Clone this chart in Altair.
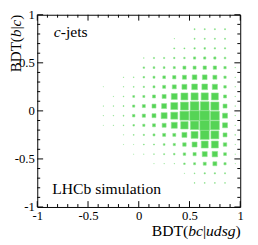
import altair as alt
import pandas as pd

# ---------------- data ----------------
x_centers = [-0.35, -0.25, -0.15, -0.05, 0.05, 0.15, 0.25, 0.35, 0.45, 0.55, 0.65, 0.75, 0.85, 0.95]
y_centers = [0.85, 0.75, 0.65, 0.55, 0.45, 0.35, 0.25, 0.15, 0.05, -0.05, -0.15, -0.25, -0.35, -0.45, -0.55, -0.65, -0.75]

# relative bin content (box side proportional to content), one row per y bin
row_p085 = [0, 0, 0, 0, 0, 0, 0, 0, 0, 10, 10, 10, 10, 0]
row_p075 = [0, 0, 0, 0, 0, 0, 0, 4, 0, 10, 10, 10, 10, 0]
row_p065 = [0, 0, 0, 0, 0, 0, 0, 10, 10, 13, 15, 13, 12, 0]
row_p055 = [0, 0, 0, 0, 5, 12, 12, 13, 14, 22, 22, 22, 16, 0]
row_p045 = [0, 0, 0, 0, 15, 17, 17, 20, 30, 30, 33, 33, 23, 5]
row_p035 = [0, 0, 5, 7, 15, 20, 27, 33, 40, 47, 47, 40, 23, 5]
row_p025 = [3, 0, 5, 8, 12, 20, 30, 40, 50, 57, 57, 52, 25, 5]
row_p015 = [0, 4, 7, 18, 20, 30, 40, 60, 70, 72, 72, 70, 30, 5]
row_p005 = [4, 6, 9, 22, 30, 40, 50, 70, 80, 88, 88, 82, 40, 5]
row_m005 = [4, 6, 9, 25, 32, 40, 60, 70, 90, 98, 100, 90, 50, 5]
row_m015 = [3, 5, 7, 15, 22, 30, 40, 60, 75, 85, 100, 90, 50, 5]
row_m025 = [0, 0, 4, 8, 12, 20, 30, 30, 50, 70, 90, 80, 40, 6]
row_m035 = [0, 0, 3, 3, 8, 10, 17, 22, 35, 50, 70, 70, 35, 4]
row_m045 = [0, 0, 0, 3, 4, 6, 10, 15, 25, 32, 50, 55, 28, 4]
row_m055 = [0, 0, 0, 0, 0, 3, 4, 5, 15, 20, 30, 40, 22, 3]
row_m065 = [0, 0, 0, 0, 0, 0, 0, 0, 4, 8, 12, 12, 10, 0]
row_m075 = [0, 0, 0, 0, 0, 0, 0, 0, 0, 7, 8, 8, 7, 0]

content = [row_p085, row_p075, row_p065, row_p055, row_p045, row_p035, row_p025,
           row_p015, row_p005, row_m005, row_m015, row_m025, row_m035, row_m045,
           row_m055, row_m065, row_m075]

tick_major = [-1, -0.5, 0, 0.5, 1]
tick_minor = [-0.9, -0.8, -0.7, -0.6, -0.4, -0.3, -0.2, -0.1, 0.1, 0.2, 0.3, 0.4, 0.6, 0.7, 0.8, 0.9]

x_title = [("BDT(", False), ("bc", True), ("|", False), ("udsg", True), (")", False)]
y_title = [("BDT(", False), ("b", True), ("|", False), ("c", True), (")", False)]

# ---------------- build ----------------
records = []
for yi, yv in enumerate(y_centers):
    for xi, xv in enumerate(x_centers):
        v = content[yi][xi]
        if v > 0:
            records.append({"x": xv, "y": yv, "c": v})
df = pd.DataFrame(records)

W, H = 208, 197
FONT = "Liberation Serif"
FS = 16
GREEN = "#55d455"

xs = alt.Scale(domain=[-1, 1], nice=False, zero=False)
ys = alt.Scale(domain=[-1, 1], nice=False, zero=False)

AX = alt.Axis(values=tick_major, labelExpr="toString(datum.value)", ticks=False, domain=False,
              grid=False, labelFont=FONT, labelFontSize=13, labelColor="black", labelPadding=3,
              labelOverlap=False, labelFlush=False, title=None, orient="bottom")
AY = alt.Axis(values=tick_major, labelExpr="toString(datum.value)", ticks=False, domain=False,
              grid=False, labelFont=FONT, labelFontSize=13, labelColor="black", labelPadding=3,
              labelOverlap=False, labelFlush=False, labelBaseline="middle", title=None,
              orient="left")

boxes = alt.Chart(df).mark_square(
    color=GREEN, fill=GREEN, stroke="#8fe48f", strokeWidth=0.6, opacity=1
).encode(
    x=alt.X("x:Q", scale=xs, axis=AX),
    y=alt.Y("y:Q", scale=ys, axis=AY),
    size=alt.Size("c:Q", scale=alt.Scale(type="pow", exponent=2, domain=[0, 100], range=[0, 104]),
                  legend=None),
)

layers = [boxes]


def tick_layers(vals, ln):
    d = pd.DataFrame({"v": vals})
    base = alt.Chart(d).mark_rule(color="black", strokeWidth=1)
    out = []
    out.append(base.encode(x=alt.X("v:Q", scale=xs, axis=AX), y=alt.value(H), y2=alt.value(H - ln)))
    out.append(base.encode(x=alt.X("v:Q", scale=xs, axis=AX), y=alt.value(0), y2=alt.value(ln)))
    out.append(base.encode(y=alt.Y("v:Q", scale=ys, axis=AY), x=alt.value(0), x2=alt.value(ln)))
    out.append(base.encode(y=alt.Y("v:Q", scale=ys, axis=AY), x=alt.value(W), x2=alt.value(W - ln)))
    return out


layers += tick_layers(tick_major, 6)
layers += tick_layers(tick_minor, 3)

# text width estimates (Times metrics, per 1000 em)
REG = {"B": 667, "D": 722, "T": 611, "(": 333, ")": 333, "|": 200, "-": 333}
ITA = {"b": 500, "c": 444, "u": 500, "d": 500, "s": 389, "g": 500}


def width(s, italic, fs):
    tab = ITA if italic else REG
    return sum(tab.get(ch, 500) for ch in s) * fs / 1000.0


dummy = pd.DataFrame({"a": [0]})


def txt(s, x, y, italic=False, align="left", angle=0, fs=FS):
    kw = dict(text=s, font=FONT, fontSize=fs, fontStyle="italic" if italic else "normal",
              align=align, baseline="alphabetic", color="black")
    if angle:
        kw["angle"] = angle
    return alt.Chart(dummy).mark_text(**kw).encode(x=alt.value(x), y=alt.value(y))


# c-jets
layers.append(txt("c", 17, 23, italic=True))
layers.append(txt("-jets", 17 + width("c", True, FS), 23))
# LHCb simulation
layers.append(txt("LHCb simulation", 15.3, 183.5))

# x axis title, right aligned at plot edge
right = 208.5
for s, it in reversed(x_title):
    layers.append(txt(s, right, 227, italic=it, align="right"))
    right -= width(s, it, FS)

# y axis title, rotated, ending near the top
FSY = 15.5
top = 0
for s, it in reversed(y_title):
    layers.append(txt(s, -16.5, top, italic=it, align="right", angle=270, fs=FSY))
    top += width(s, it, FSY)

chart = alt.layer(*layers).properties(
    width=W, height=H,
    autosize=alt.AutoSizeParams(type="none"),
    padding={"left": 30, "top": 4, "right": 10, "bottom": 35},
).configure_view(stroke="black", strokeWidth=1)

chart.save("out.html", embed_options={"renderer": "svg", "actions": False})
